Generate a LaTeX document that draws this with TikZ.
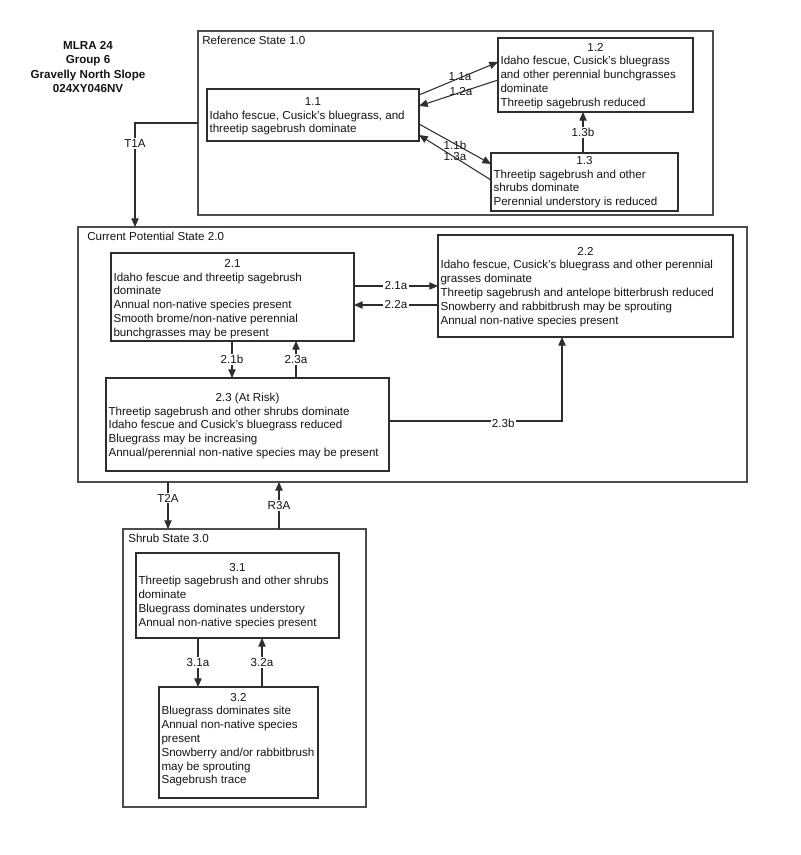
\documentclass[tikz,border=0pt]{standalone}
\usepackage{fontspec}
\setmainfont{Liberation Sans}
\usetikzlibrary{arrows.meta,calc}
\definecolor{lncol}{HTML}{2e2e2e}
\definecolor{txcol}{HTML}{141414}
\newcommand\contbox[5]{%
  \node[cbox, minimum width={(#4-#2)*0.75pt}, minimum height={(#5-#3)*0.75pt}] (#1) at (#2,#3) {};}
\newcommand\stbox[8]{%
  \pgfmathsetlengthmacro\bxw{(#4-#2)*0.75pt}%
  \pgfmathsetlengthmacro\bxh{(#5-#3)*0.75pt}%
  \pgfmathsetlengthmacro\bxp{#6*0.75pt}%
  \node[sbox] (#1) at (#2,#3) {\parbox[b][\bxh][t]{\bxw}{\vspace*{\bxp}\centering\strut #7\par
    \raggedright\leftskip=1.9pt\hbadness=10000 #8\par}};}
\begin{document}
\begin{tikzpicture}[x=0.75pt,y=-0.75pt,
  every node/.style={font=\fontsize{8.7}{10.35}\selectfont, text=txcol},
  cbox/.style={draw=lncol!85, line width=0.85pt, inner sep=0, outer sep=0, anchor=north west},
  sbox/.style={draw=lncol, line width=0.85pt, inner sep=0, outer sep=0, anchor=north west},
  lbl/.style={fill=white, inner sep=1pt},
  ttl/.style={anchor=base west, inner sep=0},
  arr/.style={draw=lncol, line width=0.8pt, -{Triangle[length=6.5pt,width=5.5pt]}}]
\useasboundingbox (0,0) rectangle (800,855);

% title
\node[anchor=north, inner sep=0, align=center, font=\fontsize{8.7}{10.75}\selectfont\bfseries] (title) at (88,41)
  {MLRA 24\\Group 6\\Gravelly North Slope\\024XY046NV};

% containers
\contbox{ref}{198}{31}{713}{215}
\contbox{cps}{78}{227}{747}{482}
\contbox{shrub}{123}{529}{366}{807}
\node[ttl] (tref) at (202,45) {Reference State 1.0};
\node[ttl] (tcps) at (87,241) {Current Potential State 2.0};
\node[ttl] (tshrub) at (128,542) {Shrub State 3.0};

% state boxes
\stbox{b11}{207}{89}{419}{141}{6.7}{1.1}{Idaho fescue, Cusick’s bluegrass, and\\threetip sagebrush dominate}
\stbox{b12}{498}{38}{693}{112}{3.4}{1.2}{Idaho fescue, Cusick’s bluegrass\\and other perennial bunchgrasses\\dominate\\Threetip sagebrush reduced}
\stbox{b13}{491}{153}{678}{211}{1.7}{1.3}{Threetip sagebrush and other\\shrubs dominate\\Perennial understory is reduced}
\stbox{b21}{111}{253}{354}{341}{4.7}{2.1}{Idaho fescue and threetip sagebrush\\dominate\\Annual non-native species present\\Smooth brome/non-native perennial\\bunchgrasses may be present}
\stbox{b22}{438}{235}{733}{337}{10.4}{2.2}{Idaho fescue, Cusick’s bluegrass and other perennial\\grasses dominate\\Threetip sagebrush and antelope bitterbrush reduced\\Snowberry and rabbitbrush may be sprouting\\Annual non-native species present}
\stbox{b23}{106}{378}{389}{471}{13.7}{2.3 (At Risk)}{Threetip sagebrush and other shrubs dominate\\Idaho fescue and Cusick’s bluegrass reduced\\Bluegrass may be increasing\\Annual/perennial non-native species may be present}
\stbox{b31}{136}{553}{339}{638}{8.4}{3.1}{Threetip sagebrush and other shrubs\\dominate\\Bluegrass dominates understory\\Annual non-native species present}
\stbox{b32}{159}{687}{318}{798}{4.4}{3.2}{Bluegrass dominates site\\Annual non-native species\\present\\Snowberry and/or rabbitbrush\\may be sprouting\\Sagebrush trace}

% reference state transitions
\draw[arr] ($(b11.north east)+(0,6)$) -- ($(b12.north west)+(0,24)$);
\draw[arr] ($(b12.north west)+(0,42)$) -- ($(b11.north east)+(0,17)$);
\draw[arr] ($(b11.north east)+(0,35)$) -- ($(b13.north west)+(0,11)$);
\draw[arr] ($(b13.north west)+(0,27)$) -- ($(b11.north east)+(0,46)$);
\node[inner sep=0] (l11a) at (460,77) {1.1a};
\node[inner sep=0] (l12a) at (461,92) {1.2a};
\node[inner sep=0] (l11b) at (455,145) {1.1b};
\node[inner sep=0] (l13a) at (455,157) {1.3a};
\draw[arr] ($(b13.north west)+(92,0)$) -- node[lbl] (l13b) {1.3b} ($(b12.south west)+(85,0)$);

% T1A
\draw[arr] ($(ref.north west)+(0,92)$) -| node[lbl, pos=0.6] (lt1a) {T1A} ($(cps.north west)+(57,0)$);

% current potential state transitions
\draw[arr] ($(b21.north east)+(0,33)$) -- node[lbl] (l21a) {2.1a} ($(b22.north west)+(0,51)$);
\draw[arr] ($(b22.north west)+(0,70)$) -- node[lbl] (l22a) {2.2a} ($(b21.north east)+(0,52)$);
\draw[arr] ($(b21.south west)+(121,0)$) -- node[lbl] (l21b) {2.1b} ($(b23.north west)+(126,0)$);
\draw[arr] ($(b23.north west)+(190,0)$) -- node[lbl] (l23a) {2.3a} ($(b21.south west)+(185,0)$);
\draw[arr] ($(b23.north east)+(0,43)$) -| node[lbl, pos=0.33, yshift=-2pt] (l23b) {2.3b} ($(b22.south west)+(124,0)$);

% T2A / R3A
\draw[arr] ($(cps.south west)+(90,0)$) -- node[lbl, pos=0.34] (lt2a) {T2A} ($(shrub.north west)+(45,0)$);
\draw[arr] ($(shrub.north west)+(156,0)$) -- node[lbl, pos=0.5] (lr3a) {R3A} ($(cps.south west)+(201,0)$);

% shrub state transitions
\draw[arr] ($(b31.south west)+(62,0)$) -- node[lbl] (l31a) {3.1a} ($(b32.north west)+(39,0)$);
\draw[arr] ($(b32.north west)+(103,0)$) -- node[lbl] (l32a) {3.2a} ($(b31.south west)+(126,0)$);
\end{tikzpicture}
\end{document}
